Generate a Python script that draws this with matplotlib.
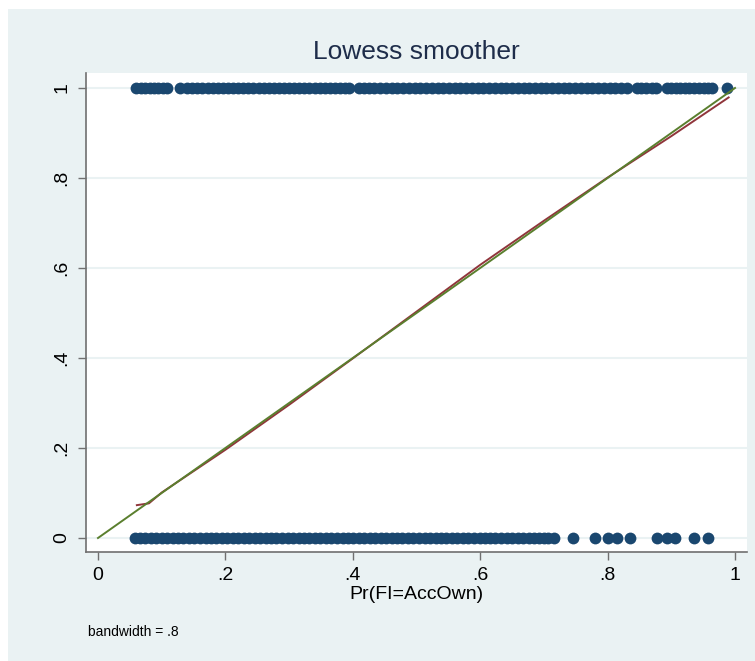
import matplotlib.pyplot as plt
from matplotlib.patches import Rectangle

# Observed outcome (0/1) against predicted probability
x_one = [0.060, 0.067, 0.074, 0.081, 0.088, 0.095, 0.102, 0.109,
         0.128, 0.139, 0.148, 0.156, 0.164, 0.172, 0.180, 0.188, 0.196, 0.204,
         0.212, 0.220, 0.228, 0.236, 0.244, 0.252, 0.260, 0.268, 0.276, 0.284,
         0.292, 0.300, 0.308, 0.316, 0.324, 0.332, 0.340, 0.348, 0.356, 0.364,
         0.372, 0.380, 0.388, 0.394,
         0.410, 0.418, 0.425, 0.434, 0.443, 0.452, 0.461, 0.470, 0.479, 0.488,
         0.497, 0.506, 0.515, 0.524, 0.533, 0.542, 0.551, 0.560, 0.569, 0.578,
         0.587, 0.596, 0.605, 0.614, 0.623, 0.632, 0.641, 0.650, 0.659, 0.668,
         0.677, 0.686, 0.695, 0.704, 0.713, 0.722, 0.731, 0.740, 0.749, 0.758,
         0.767, 0.776, 0.785, 0.794, 0.803, 0.812, 0.821, 0.830,
         0.846, 0.853, 0.861, 0.869, 0.876,
         0.893, 0.900, 0.907, 0.914, 0.921, 0.928, 0.936, 0.944, 0.951, 0.958,
         0.964, 0.988]
x_zero = [0.058, 0.066, 0.074, 0.083, 0.091, 0.100, 0.108, 0.117, 0.126, 0.134,
          0.143, 0.151, 0.160, 0.169, 0.177, 0.186, 0.194, 0.203, 0.212, 0.220,
          0.229, 0.237, 0.246, 0.255, 0.263, 0.272, 0.280, 0.289, 0.298, 0.306,
          0.315, 0.323, 0.332, 0.341, 0.349, 0.358, 0.366, 0.375, 0.384, 0.392,
          0.401, 0.409, 0.418, 0.427, 0.435, 0.444, 0.452, 0.461, 0.470, 0.478,
          0.487, 0.495, 0.504, 0.513, 0.521, 0.530, 0.538, 0.547, 0.556, 0.564,
          0.573, 0.581, 0.590, 0.599, 0.607, 0.616, 0.624, 0.633, 0.642, 0.650,
          0.659, 0.667, 0.676, 0.685, 0.693, 0.700,
          0.707, 0.716, 0.746, 0.780, 0.801, 0.815, 0.835, 0.878, 0.893, 0.906,
          0.936, 0.958]

# lowess fit
lowess_x = [0.061, 0.08, 0.10, 0.20, 0.30, 0.40, 0.50, 0.60, 0.70, 0.80, 0.90, 0.99]
lowess_y = [0.073, 0.077, 0.101, 0.196, 0.296, 0.399, 0.503, 0.607, 0.705, 0.801, 0.893, 0.979]

# 45-degree reference
ref_x = [0, 1]
ref_y = [0, 1]

ticks = [0, 0.2, 0.4, 0.6, 0.8, 1]
tick_labels = ['0', '.2', '.4', '.6', '.8', '1']

plt.rcParams['font.family'] = ['Liberation Sans Narrow', 'Liberation Sans', 'DejaVu Sans']

bg = '#EAF2F3'
fig = plt.figure(figsize=(7.55, 6.61), dpi=100)
fig.patch.set_facecolor(bg)
# thin white margin along the top and left edges
fig.add_artist(Rectangle((0, 0), 8 / 755, 1, transform=fig.transFigure,
                         facecolor='white', edgecolor='none', zorder=-5))
fig.add_artist(Rectangle((0, 1 - 9 / 661), 1, 9 / 661, transform=fig.transFigure,
                         facecolor='white', edgecolor='none', zorder=-5))

ax = fig.add_axes([86 / 755, 1 - 552 / 661, 661 / 755, 479 / 661])
ax.set_facecolor('white')

ax.plot(x_one, [1] * len(x_one), 'o', color='#1A476F', markersize=8.5, markeredgewidth=0,
        zorder=2, clip_on=False)
ax.plot(x_zero, [0] * len(x_zero), 'o', color='#1A476F', markersize=8.5, markeredgewidth=0,
        zorder=2, clip_on=False)
ax.plot(lowess_x, lowess_y, color='#90353B', linewidth=1.4, zorder=3)
ax.plot(ref_x, ref_y, color='#5A7F2E', linewidth=1.4, zorder=4)

ax.set_xlim(-0.0188, 1.0188)
ax.set_ylim(-0.0311, 1.0333)

ax.set_xticks(ticks)
ax.set_xticklabels(tick_labels, fontsize=14)
ax.set_yticks(ticks)
ax.set_yticklabels(tick_labels, fontsize=14, rotation=90, va='center')
ax.tick_params(length=6, width=1, color='#707070', pad=5)

ax.yaxis.grid(True, color=bg, linewidth=1.5)
ax.set_axisbelow(True)
for s in ['top', 'right']:
    ax.spines[s].set_visible(False)
for s in ['left', 'bottom']:
    ax.spines[s].set_color('#707070')
    ax.spines[s].set_linewidth(1.2)

ax.set_title('Lowess smoother', fontsize=19, color='#1E2D4A', pad=10)
ax.set_xlabel('Pr(FI=AccOwn)', fontsize=14, labelpad=1)
fig.text(88 / 755, 1 - 632 / 661, 'bandwidth = .8', fontsize=10, va='center', ha='left')

fig.savefig('out.png', dpi=100, facecolor=fig.get_facecolor())
